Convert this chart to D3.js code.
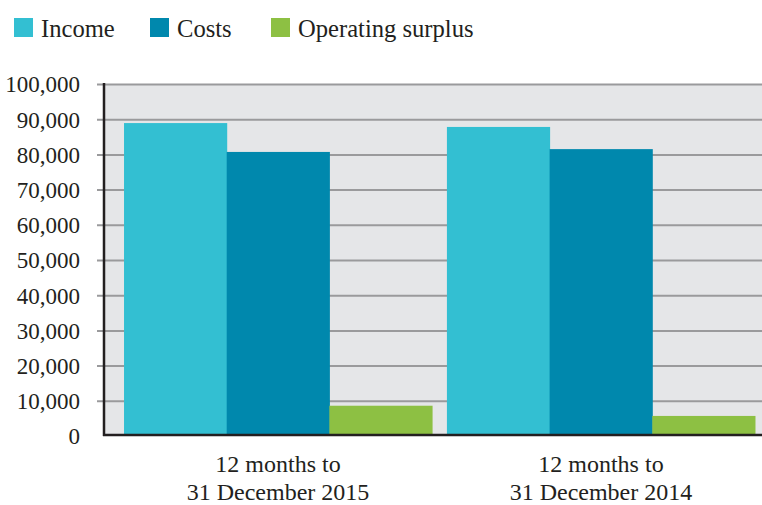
<!DOCTYPE html>
<html>
<head>
<meta charset="utf-8">
<title>Income and costs</title>
<script src="https://cdn.jsdelivr.net/npm/d3@7"></script>
<style>
  body { margin: 0; background: #fff; }
  text { font-family: "Liberation Serif", "DejaVu Serif", serif; fill: #231f20; }
</style>
</head>
<body>
<div id="chart"></div>
<script>
// data
var periods = ["2015", "2014"];
var periodLines = [["12 months to", "31 December 2015"], ["12 months to", "31 December 2014"]];
var seriesNames = ["Income", "Costs", "Operating surplus"];
var seriesColors = ["#33bfd2", "#0088ad", "#8dc043"];
var income = [88900, 87800];
var costs = [80700, 81500];
var surplus = [8600, 5700];
var yTicks = [0, 10000, 20000, 30000, 40000, 50000, 60000, 70000, 80000, 90000, 100000];

var W = 762, H = 505;
var values = [income, costs, surplus];

var svg = d3.select("#chart").append("svg")
  .attr("width", W)
  .attr("height", H);

var plotLeft = 104, plotRight = 762;

var y = d3.scaleLinear().domain([0, 100000]).range([436, 84]);

var x0 = d3.scaleBand()
  .domain(periods)
  .range([plotLeft, 775])
  .paddingInner(0.046)
  .paddingOuter(0.062);

var x1 = d3.scaleBand()
  .domain(seriesNames)
  .range([0, x0.bandwidth()]);

// plot background
svg.append("rect")
  .attr("x", plotLeft)
  .attr("y", y(100000))
  .attr("width", plotRight - plotLeft)
  .attr("height", y(0) - y(100000))
  .attr("fill", "#e5e6e8");

// gridlines + tick labels
var yAxis = d3.axisLeft(y)
  .tickValues(yTicks)
  .tickSize(-(plotRight - plotLeft + 7))
  .tickFormat(d3.format(","));

var gy = svg.append("g")
  .attr("transform", "translate(" + (plotLeft - 7) + ",0)")
  .call(yAxis);
gy.select(".domain").remove();
gy.selectAll(".tick line")
  .attr("stroke", "#9a9a9c")
  .attr("stroke-width", 2);
gy.selectAll(".tick text")
  .attr("x", -17)
  .attr("dy", "0.34em")
  .style("font-size", "23px")
  .style("font-family", "'Liberation Serif', serif")
  .attr("fill", "#231f20");
gy.selectAll(".tick").filter(function(d) { return d === 0; }).select("line").remove();

// bars
var groups = svg.append("g").selectAll("g")
  .data(periods)
  .enter().append("g")
  .attr("transform", function(d) { return "translate(" + x0(d) + ",0)"; });

groups.selectAll("rect")
  .data(function(d, i) {
    return seriesNames.map(function(s, k) { return {name: s, value: values[k][i], color: seriesColors[k]}; });
  })
  .enter().append("rect")
  .attr("x", function(d) { return x1(d.name); })
  .attr("y", function(d) { return y(d.value); })
  .attr("width", x1.bandwidth() + 0.5)
  .attr("height", function(d) { return y(0) - y(d.value); })
  .attr("fill", function(d) { return d.color; });

// axis lines
svg.append("line")
  .attr("x1", plotLeft).attr("x2", plotLeft)
  .attr("y1", y(100000) - 1).attr("y2", y(0))
  .attr("stroke", "#231f20").attr("stroke-width", 2.5);
svg.append("line")
  .attr("x1", plotLeft - 1).attr("x2", plotRight)
  .attr("y1", y(0) - 1).attr("y2", y(0) - 1)
  .attr("stroke", "#231f20").attr("stroke-width", 2.5);

// x labels
var xl = svg.append("g").selectAll("text")
  .data(periods)
  .enter().append("text")
  .attr("x", function(d) { return x0(d) + x0.bandwidth() / 2; })
  .attr("y", 472)
  .attr("text-anchor", "middle")
  .style("font-size", "24px");
xl.selectAll("tspan")
  .data(function(d, i) { return periodLines[i]; })
  .enter().append("tspan")
  .attr("x", function() { return d3.select(this.parentNode).attr("x"); })
  .attr("dy", function(d, i) { return i ? 28 : 0; })
  .text(function(d) { return d; });

// legend
var legendX = [14, 150, 271];
var legend = svg.append("g").selectAll("g")
  .data(seriesNames)
  .enter().append("g")
  .attr("transform", function(d, i) { return "translate(" + legendX[i] + ",18)"; });
legend.append("rect")
  .attr("width", 19).attr("height", 19)
  .attr("fill", function(d, i) { return seriesColors[i]; });
legend.append("text")
  .attr("x", 27)
  .attr("y", 19)
  .style("font-size", "24.6px")
  .text(function(d) { return d; });
</script>
</body>
</html>
